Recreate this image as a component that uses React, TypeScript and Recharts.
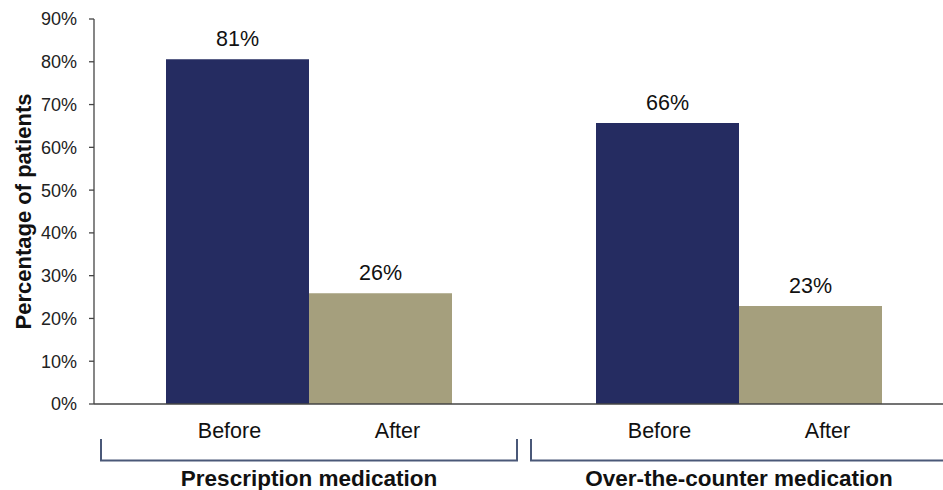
import React from "react";
import { BarChart, Bar, XAxis, YAxis, LabelList, Label } from "recharts";

// Medication groups along the category axis
const groups = ["Prescription medication", "Over-the-counter medication"];
// Share of patients (%) using medication before and after
const beforeValues = [80.6, 65.7];
const afterValues = [25.9, 22.9];
const seriesNames = ["Before", "After"];
const yTicks = [0, 10, 20, 30, 40, 50, 60, 70, 80, 90];

const data = groups.map((g, i) => ({
  group: g,
  before: beforeValues[i],
  after: afterValues[i],
}));

const FONT = "'Liberation Sans', Arial, Helvetica, sans-serif";
const NAVY = "#252c61";
const TAN = "#a59f7d";
const BRACKET = "#4a5878";

const ValueLabel = (props: any) => {
  const { x, y, width, value } = props;
  return (
    <text
      x={x + width / 2}
      y={y - 13}
      textAnchor="middle"
      fontFamily={FONT}
      fontSize={21.5}
      fill="#111"
    >
      {`${Math.round(value)}%`}
    </text>
  );
};

const makeSeriesLabel = (name: string, dx: number) => (props: any) => {
  const { x, y, width, height } = props;
  return (
    <text
      x={x + width / 2 + dx}
      y={y + height + 34}
      textAnchor="middle"
      fontFamily={FONT}
      fontSize={21.5}
      fill="#111"
    >
      {name}
    </text>
  );
};

// Bracket under each medication group, with the group name beneath it
const GroupTick = (props: any) => {
  const { x, y, payload } = props;
  const half = payload && payload.offset ? payload.offset : 215;
  const left = x - half + 7;
  const right = x + half - 7;
  const top = y + 35;
  const bottom = y + 56.5;
  return (
    <g>
      <path
        d={`M${left},${top} L${left},${bottom} L${right},${bottom} L${right},${top}`}
        fill="none"
        stroke={BRACKET}
        strokeWidth={2}
      />
      <text
        x={x}
        y={y + 82}
        textAnchor="middle"
        fontFamily={FONT}
        fontSize={22.5}
        fontWeight="bold"
        fill="#111"
      >
        {payload.value}
      </text>
    </g>
  );
};

const YTitle = (props: any) => {
  const vb = props.viewBox || {};
  const cx = 23;
  const cy = (vb.y ?? 19) + (vb.height ?? 385) / 2;
  return (
    <text
      x={cx}
      y={cy}
      transform={`rotate(-90, ${cx}, ${cy})`}
      textAnchor="middle"
      dominantBaseline="central"
      fontFamily={FONT}
      fontSize={22}
      fontWeight="bold"
      fill="#111"
    >
      Percentage of patients
    </text>
  );
};

export default function App() {
  return (
    <div
      style={{
        position: "absolute",
        left: 0,
        top: 0,
        width: 943,
        height: 490,
        overflow: "hidden",
        background: "#fff",
      }}
    >
      <BarChart
        width={954}
        height={490}
        data={data}
        margin={{ top: 19, right: 0, left: 0, bottom: 0 }}
        barCategoryGap={72}
        barGap={0}
      >
        <XAxis
          dataKey="group"
          height={86}
          tickLine={false}
          tickSize={0}
          tickMargin={0}
          interval={0}
          axisLine={{ stroke: "#444", strokeWidth: 1.3 }}
          tick={<GroupTick />}
        />
        <YAxis
          width={94}
          domain={[0, 90]}
          ticks={yTicks}
          interval={0}
          tickFormatter={(v: number) => `${v}%`}
          tickSize={5}
          tickMargin={12}
          tickLine={{ stroke: "#444", strokeWidth: 1.3 }}
          axisLine={{ stroke: "#444", strokeWidth: 1.3 }}
          tick={{ fontFamily: FONT, fontSize: 18, fill: "#222" }}
        >
          <Label content={<YTitle />} />
        </YAxis>
        <Bar dataKey="before" fill={NAVY} isAnimationActive={false}>
          <LabelList dataKey="before" content={<ValueLabel />} />
          <LabelList dataKey="before" content={makeSeriesLabel(seriesNames[0], -8)} />
        </Bar>
        <Bar dataKey="after" fill={TAN} isAnimationActive={false}>
          <LabelList dataKey="after" content={<ValueLabel />} />
          <LabelList dataKey="after" content={makeSeriesLabel(seriesNames[1], 17)} />
        </Bar>
      </BarChart>
    </div>
  );
}
